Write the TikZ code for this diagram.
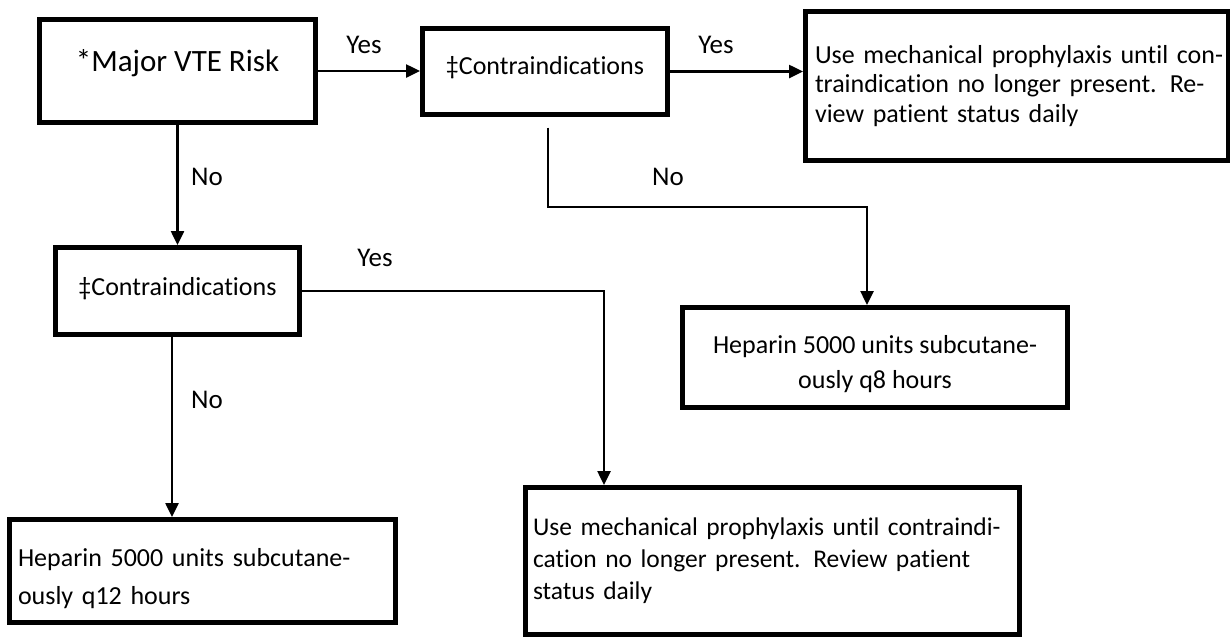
\documentclass[tikz,border=0pt]{standalone}
\usepackage{fontspec}
\setmainfont{Carlito}[Ligatures=NoCommon]
\usetikzlibrary{arrows.meta}
\begin{document}
\begin{tikzpicture}[x=1pt,y=-1pt,
  bx/.style={draw=black, line width=5pt, inner sep=0pt, fill=white},
  arr/.style={line width=2.5pt, -{Triangle[length=14pt,width=13pt]}},
  lbl/.style={font=\fontsize{27}{30}\selectfont, inner sep=0pt},
  body/.style={font=\fontsize{26}{30}\selectfont},
]
\useasboundingbox (0,0) rectangle (1230,641);
\fill[white] (0,0) rectangle (1230,641);

\node[bx, minimum width=276pt, minimum height=103pt, font=\fontsize{31}{36}\selectfont, text height=12pt, text depth=12pt] (A) at (177.5,71) {*Major VTE Risk};
\node[bx, body, minimum width=245pt, minimum height=86pt, text height=14pt, text depth=9pt] (B) at (545,71.5) {‡Contraindications};
\node[bx, font=\fontsize{26}{29.5}\selectfont, minimum width=423pt, minimum height=149pt, text width=404pt, align=left] (C) at (1017,86) {\mbox{Use mechanical prophylaxis until con-}\\\mbox{traindication no longer present. Re-}\\\mbox{view patient status daily}};
\node[bx, body, minimum width=244pt, minimum height=87pt, text height=16pt, text depth=8pt] (D) at (177.5,291) {‡Contraindications};
\node[bx, font=\fontsize{26}{35}\selectfont, minimum width=385pt, minimum height=100pt, align=center] (E) at (875,357.5) {\rule{0pt}{32pt}Heparin 5000 units subcutane-\\ously q8 hours};
\node[bx, font=\fontsize{26}{38}\selectfont, minimum width=386pt, minimum height=103pt, text width=369pt, align=left] (F) at (202.5,571) {\rule{0pt}{34pt}\mbox{Heparin 5000 units subcutane-}\\\mbox{ously q12 hours}};
\node[bx, font=\fontsize{25.5}{32}\selectfont, minimum width=494pt, minimum height=147pt, text width=479pt, align=left] (G) at (772.5,561) {\mbox{Use mechanical prophylaxis until contraindi-}\\\mbox{cation no longer present. Review patient}\\\mbox{status daily}};

\node[lbl] (yes1) at (364,45) {Yes};
\node[lbl] (yes2) at (716,45) {Yes};
\node[lbl] (no1) at (207,177) {No};
\node[lbl] (no2) at (668,177) {No};
\node[lbl] (yes3) at (375,258) {Yes};
\node[lbl] (no3) at (207,400) {No};

\draw[arr] (A.east) -- (A.east -| B.west);
\draw[arr] (B.east) -- (B.east -| C.west);
\draw[arr] (A.south) -- (D.north);
\coordinate (bturn) at (548,207);
\draw[arr] ([xshift=3pt,yshift=-10.5pt]B.south) -- (bturn) -| ([xshift=-8pt]E.north);
\draw[arr] (D.east) -| ([xshift=-168.5pt]G.north);
\draw[arr] ([xshift=-5.5pt]D.south) -- ([xshift=-5.5pt]D.south |- F.north);
\end{tikzpicture}
\end{document}
